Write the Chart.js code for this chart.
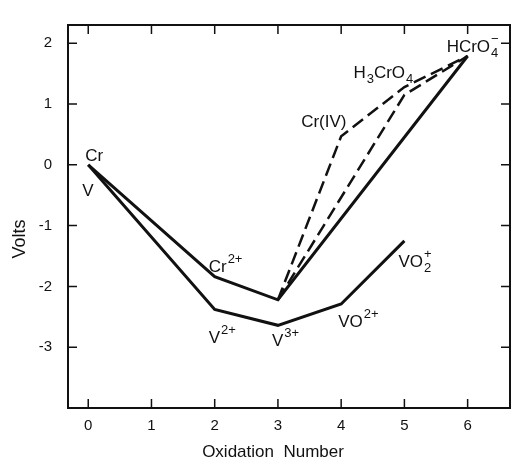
<!DOCTYPE html>
<html>
<head>
<meta charset="utf-8">
<script src="https://cdn.jsdelivr.net/npm/chart.js@4"></script>
<style>
body{margin:0;background:#fff}
</style>
</head>
<body>
<canvas id="c" width="511" height="459"></canvas>
<script>
// oxidation number vs volt-equivalent (nE)
const crOx=[0,2,3,6]
const crVolts=[0,-1.84,-2.22,1.79]
const vOx=[0,2,3,4,5]
const vVolts=[0,-2.38,-2.64,-2.29,-1.25]
// dashed chromium paths (through Cr(IV), and Cr3+ straight to H3CrO4)
const crIVOx=[3,4,5,6]
const crIVVolts=[-2.22,0.47,1.28,1.79]
const crDirOx=[3,5,6]
const crDirVolts=[-2.22,1.15,1.79]

const xTicks=[0,1,2,3,4,5,6]
const yTicks=[-3,-2,-1,0,1,2]

const xTitle='Oxidation  Number'
const yTitle='Volts'

// species names, pieces: [text, ''|'sub'|'sup'|'both']
const speciesNames=[
 [['Cr']],
 [['V']],
 [['Cr'],['2+','sup']],
 [['V'],['2+','sup']],
 [['V'],['3+','sup']],
 [['VO'],['2+','sup']],
 [['VO'],[['2','+'],'both']],
 [['Cr(IV)']],
 [['H'],['3','sub'],['CrO'],['4','sub']],
 [['HCrO'],[['4','\u2212'],'both']]
]
const speciesOx=[0,0,2,2,3,4,5,4,5,6]
const speciesVolts=[0,0,-1.84,-2.38,-2.64,-2.29,-1.25,0.47,1.28,1.79]

function pts(xs,ys){
return xs.map((x,i)=>({x:x,y:ys[i]}))
}

const FONT='"Liberation Sans", Arial, sans-serif'

function chem(ctx,x,y,parts){
parts.forEach(p=>{
let t=p[0],k=p[1]||''
if(k==''){
ctx.font='17px '+FONT
ctx.fillText(t,x,y)
x+=ctx.measureText(t).width
}else if(k=='sup'){
ctx.font='13px '+FONT
ctx.fillText(t,x+1,y-9)
x+=ctx.measureText(t).width+1
}else if(k=='sub'){
ctx.font='13px '+FONT
ctx.fillText(t,x+1,y+5)
x+=ctx.measureText(t).width+1
}else{
ctx.font='13px '+FONT
ctx.fillText(t[0],x+1,y+5)
ctx.fillText(t[1],x+1,y-9)
}
})
}

// label offsets in px from the data anchor
const labelOffsets=[[-3,-4],[-6,31],[-6,-5],[-6,33],[-6,21],[-3,23],[-6,26],[-40,-9],[-51,-9],[-21,-4]]

const frame={
id:'frame',
afterDatasetsDraw(chart){
const ctx=chart.ctx
const a=chart.chartArea
const xs=chart.scales.x,ys=chart.scales.y
ctx.save()
ctx.strokeStyle='#111'
ctx.lineWidth=2
ctx.strokeRect(a.left,a.top,a.right-a.left,a.bottom-a.top)
ctx.lineWidth=1.5
ctx.beginPath()
xTicks.forEach(v=>{
let p=xs.getPixelForValue(v)
ctx.moveTo(p,a.bottom);ctx.lineTo(p,a.bottom-9)
ctx.moveTo(p,a.top);ctx.lineTo(p,a.top+9)
})
yTicks.forEach(v=>{
let p=ys.getPixelForValue(v)
ctx.moveTo(a.left,p);ctx.lineTo(a.left+9,p)
ctx.moveTo(a.right,p);ctx.lineTo(a.right-9,p)
})
ctx.stroke()

ctx.fillStyle='#111'
ctx.textBaseline='alphabetic'
ctx.textAlign='left'
speciesNames.forEach((parts,i)=>{
let px=xs.getPixelForValue(speciesOx[i])+labelOffsets[i][0]
let py=ys.getPixelForValue(speciesVolts[i])+labelOffsets[i][1]
chem(ctx,px,py,parts)
})

// axis titles
ctx.font='17px '+FONT
ctx.textAlign='center'
ctx.fillText(xTitle,a.left+205,a.bottom+49)
ctx.translate(20,239)
ctx.rotate(-Math.PI/2)
ctx.textBaseline='middle'
ctx.font='18px '+FONT
ctx.fillText(yTitle,0,0)
ctx.restore()
}
}

const tickFont={family:FONT,size:15}

new Chart(document.getElementById('c'),{
type:'scatter',
data:{datasets:[
{data:pts(crOx,crVolts),showLine:true,borderColor:'#111',borderWidth:3,pointRadius:0},
{data:pts(vOx,vVolts),showLine:true,borderColor:'#111',borderWidth:3,pointRadius:0},
{data:pts(crIVOx,crIVVolts),showLine:true,borderColor:'#111',borderWidth:2.5,borderDash:[13,6],pointRadius:0},
{data:pts(crDirOx,crDirVolts),showLine:true,borderColor:'#111',borderWidth:2.5,borderDash:[13,6],pointRadius:0}
]},
options:{
responsive:false,
animation:false,
layout:{padding:{top:13,right:1,left:0,bottom:0}},
plugins:{legend:{display:false},tooltip:{enabled:false}},
scales:{
x:{
type:'linear',min:-0.32,max:6.67,
grid:{display:false,drawTicks:false},
border:{display:false},
afterBuildTicks:s=>{s.ticks=xTicks.map(v=>({value:v}))},
afterFit:s=>{s.height=51},
ticks:{color:'#111',font:tickFont,padding:9}
},
y:{
type:'linear',min:-4,max:2.3,
grid:{display:false,drawTicks:false},
border:{display:false},
afterBuildTicks:s=>{s.ticks=yTicks.map(v=>({value:v}))},
afterFit:s=>{s.width=68},
ticks:{color:'#111',font:tickFont,padding:16}
}
}
},
plugins:[frame]
})
</script>
</body>
</html>
